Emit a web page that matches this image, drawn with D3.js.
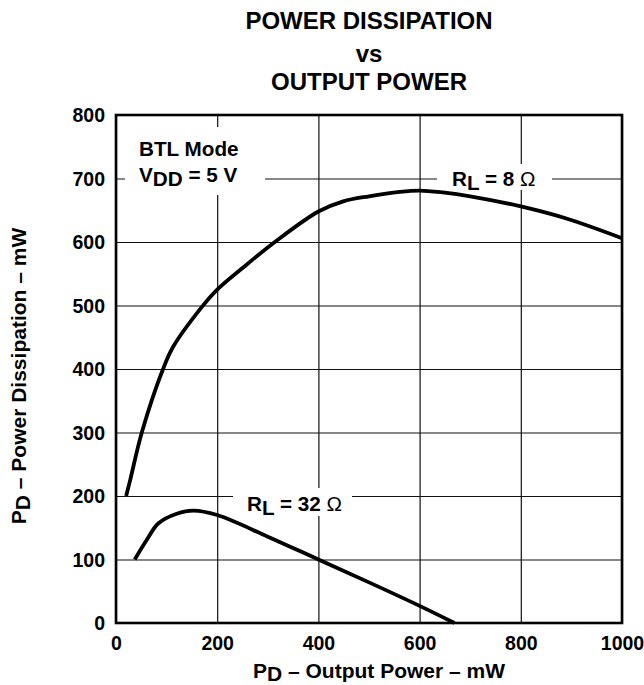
<!DOCTYPE html>
<html>
<head>
<meta charset="utf-8">
<script src="https://cdn.jsdelivr.net/npm/d3@7"></script>
<style>
  html, body { margin: 0; padding: 0; background: #fff; }
  svg { display: block; font-family: "Liberation Sans", Arial, Helvetica, sans-serif; font-weight: bold; }
</style>
</head>
<body>
<svg id="chart" width="644" height="685"></svg>
<script>
// ---- data ----
const titleLines = ["POWER DISSIPATION", "vs", "OUTPUT POWER"];
const xTicks = [0, 200, 400, 600, 800, 1000];
const yTicks = [0, 100, 200, 300, 400, 500, 600, 700, 800];

// R_L = 8 ohm curve: output power (mW) vs dissipation (mW)
const rl8Out  = [20, 28, 51, 93, 113, 169, 200, 250, 314, 400, 449, 500, 561, 600, 646, 700, 800, 890, 1000];
const rl8Diss = [200, 225, 300, 400, 435, 497, 525, 559, 600, 648, 664, 672, 679, 681, 678, 672, 656, 637, 606];

// R_L = 32 ohm curve
const rl32Out  = [37, 60, 84, 120, 153, 200, 300, 400, 500, 600, 669];
const rl32Diss = [100, 130, 157, 172, 177, 170, 136, 100, 64, 27, 0];

// ---- layout ----
const W = 644, H = 685;
const margin = { left: 116, right: 22, top: 115, bottom: 62 };
const pw = W - margin.left - margin.right;
const ph = H - margin.top - margin.bottom;

const svg = d3.select("#chart");
const x = d3.scaleLinear().domain([0, 1000]).range([margin.left, margin.left + pw]);
const y = d3.scaleLinear().domain([0, 800]).range([margin.top + ph, margin.top]);

// Title
svg.append("g").selectAll("text").data(titleLines).enter().append("text")
  .attr("x", x(500)).attr("y", (d, i) => [29, 62, 90][i])
  .attr("text-anchor", "middle").attr("font-size", 24).text(d => d);

// Grid via axes
const gx = svg.append("g").attr("transform", `translate(0,${margin.top + ph})`)
  .call(d3.axisBottom(x).tickValues(xTicks).tickSize(-ph).tickFormat(""));
gx.select(".domain").remove();
gx.selectAll("line").attr("stroke", "#111").attr("stroke-width", 1.2);

const gy = svg.append("g").attr("transform", `translate(${margin.left},0)`)
  .call(d3.axisLeft(y).tickValues(yTicks).tickSize(-pw).tickFormat(""));
gy.select(".domain").remove();
gy.selectAll("line").attr("stroke", "#111").attr("stroke-width", 1.2);

// Tick labels
const lx = svg.append("g").attr("transform", `translate(0,${margin.top + ph})`)
  .call(d3.axisBottom(x).tickValues(xTicks).tickSize(0).tickPadding(0).tickFormat(d3.format("d")));
lx.select(".domain").remove();
lx.selectAll("text").attr("y", 27).attr("dy", 0)
  .attr("font-size", 19.5).attr("font-weight", "bold").attr("fill", "#000")
  .attr("font-family", "Liberation Sans, Arial, sans-serif");

const ly = svg.append("g").attr("transform", `translate(${margin.left},0)`)
  .call(d3.axisLeft(y).tickValues(yTicks).tickSize(0).tickPadding(0).tickFormat(d3.format("d")));
ly.select(".domain").remove();
ly.selectAll("text").attr("x", -11).attr("dy", "0.34em")
  .attr("font-size", 19.5).attr("font-weight", "bold").attr("fill", "#000")
  .attr("font-family", "Liberation Sans, Arial, sans-serif");

// White label backgrounds (cover grid)
const boxes = [
  [125, 127, 140, 68],
  [437, 164, 115, 26],
  [233, 488, 119, 28]
];
svg.append("g").selectAll("rect").data(boxes).enter().append("rect")
  .attr("x", d => d[0]).attr("y", d => d[1]).attr("width", d => d[2]).attr("height", d => d[3])
  .attr("fill", "#fff");

// Plot border
svg.append("rect")
  .attr("x", margin.left).attr("y", margin.top).attr("width", pw).attr("height", ph)
  .attr("fill", "none").attr("stroke", "#000").attr("stroke-width", 2.6);

// Curves
const line = d3.line().x(d => x(d[0])).y(d => y(d[1])).curve(d3.curveCatmullRom.alpha(0.5));
const c8 = rl8Out.map((v, i) => [v, rl8Diss[i]]);
const c32 = rl32Out.map((v, i) => [v, rl32Diss[i]]);
svg.append("path").datum(c8).attr("d", line)
  .attr("fill", "none").attr("stroke", "#000").attr("stroke-width", 3.8).attr("stroke-linejoin", "round");
svg.append("path").datum(c32).attr("d", line)
  .attr("fill", "none").attr("stroke", "#000").attr("stroke-width", 3.8).attr("stroke-linejoin", "round");

// Annotations
function sub(textSel, parts) {
  parts.forEach(p => {
    const t = textSel.append("tspan").text(p.t);
    if (p.dy) t.attr("dy", p.dy);
    if (p.w) t.attr("font-weight", p.w);
  });
}
svg.append("text").attr("x", 139).attr("y", 156).attr("font-size", 20.7).text("BTL Mode");
sub(svg.append("text").attr("x", 139).attr("y", 182).attr("font-size", 20.7),
  [{t: "V"}, {t: "DD", dy: 4}, {t: " = 5 V", dy: -4}]);
sub(svg.append("text").attr("x", 452).attr("y", 186).attr("font-size", 20.7),
  [{t: "R"}, {t: "L", dy: 4}, {t: " = 8 ", dy: -4}, {t: "Ω", w: "normal"}]);
sub(svg.append("text").attr("x", 247).attr("y", 511).attr("font-size", 20.7),
  [{t: "R"}, {t: "L", dy: 4}, {t: " = 32 ", dy: -4}, {t: "Ω", w: "normal"}]);

// Axis titles
sub(svg.append("text").attr("x", 379).attr("y", 678).attr("text-anchor", "middle").attr("font-size", 21),
  [{t: "P"}, {t: "D", dy: 3}, {t: " – Output Power – mW", dy: -3}]);
sub(svg.append("text").attr("transform", `translate(26,376) rotate(-90)`)
  .attr("text-anchor", "middle").attr("font-size", 21),
  [{t: "P"}, {t: "D", dy: 4}, {t: " – Power Dissipation – mW", dy: -4}]);
</script>
</body>
</html>
